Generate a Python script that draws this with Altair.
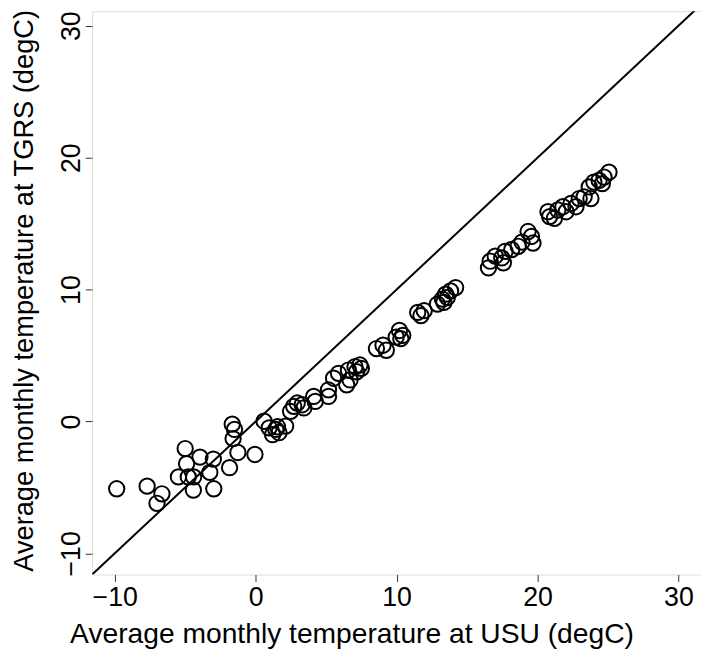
import altair as alt
import pandas as pd

usu = [-9.86, -7.70, -6.65, -7.00, -5.00, -4.90, -5.48, -4.78, -4.40, -4.42,
       -3.95, -3.00, -3.25, -2.97, -1.85, -1.66, -1.50, -1.60, -1.26, -0.05,
       0.60, 0.96, 1.43, 1.66, 1.20, 2.13, 1.55,
       2.48, 2.70, 2.95, 3.30, 3.42, 4.12, 4.23, 5.17, 5.17, 5.53,
       5.88, 6.46, 6.70, 6.58, 7.05, 7.16, 7.40, 7.50,
       8.57, 9.04, 9.27, 9.97, 10.44, 10.20, 10.30,
       11.50, 11.73, 11.96, 12.90, 13.25, 13.36, 13.48, 13.60, 13.83, 14.19,
       16.52, 16.64, 17.00, 17.46, 17.58, 17.70, 18.17, 18.63, 18.90, 19.33,
       19.57, 19.68,
       20.74, 20.86, 21.20, 21.44, 21.80, 22.03, 22.38, 22.73, 22.96, 23.31,
       23.79, 23.67, 24.00, 24.37, 24.60, 24.72, 25.07]
tgrs = [-5.10, -4.90, -5.48, -6.20, -2.05, -3.20, -4.20, -4.20, -4.20, -5.20,
        -2.70, -2.85, -3.85, -5.10, -3.50, -0.20, -0.60, -1.30, -2.35, -2.50,
        0.02, -0.48, -0.60, -0.85, -1.00, -0.35, -0.40,
        0.77, 1.15, 1.40, 1.27, 1.03, 1.90, 1.52, 1.90, 2.40, 3.28,
        3.65, 2.78, 3.15, 3.90, 4.15, 3.77, 4.28, 4.03,
        5.53, 5.78, 5.40, 6.40, 6.53, 6.90, 6.28,
        8.27, 8.03, 8.40, 8.90, 9.28, 9.03, 9.65, 9.40, 9.90, 10.15,
        11.65, 12.15, 12.53, 12.40, 12.03, 12.90, 13.03, 13.28, 13.60, 14.40,
        14.03, 13.53,
        15.90, 15.53, 15.40, 16.03, 16.28, 15.90, 16.53, 16.28, 16.90, 17.03,
        16.90, 17.78, 18.15, 18.28, 18.03, 18.53, 18.90]

tick_values = [-10, 0, 10, 20, 30]
lim = [-11.6, 31.6]
ylim = [-11.6, 31.1]

df = pd.DataFrame({"usu": usu, "tgrs": tgrs})
line_df = pd.DataFrame({"usu": lim, "tgrs": lim})

FONT = "Liberation Sans"

xscale = alt.Scale(domain=lim, nice=False, zero=False)
yscale = alt.Scale(domain=ylim, nice=False, zero=False)

xaxis = alt.Axis(values=tick_values, title="Average monthly temperature at USU (degC)",
                 grid=False, domain=False, tickSize=7, tickColor="#333333",
                 labelFont=FONT, labelFontSize=27, labelColor="black",
                 labelBaseline="alphabetic", labelPadding=24,
                 titleFont=FONT, titleFontSize=28.5, titleFontWeight="normal",
                 titleColor="black", titleX=262, titleY=60, titleAlign="center",
                 titleBaseline="middle")
yaxis = alt.Axis(values=tick_values, title="Average monthly temperature at TGRS (degC)",
                 grid=False, domain=False, tickSize=7, tickColor="#333333",
                 labelFont=FONT, labelFontSize=27, labelColor="black",
                 labelAngle=-90, labelAlign="center", labelBaseline="alphabetic",
                 labelPadding=6,
                 titleFont=FONT, titleFontSize=27.5, titleFontWeight="normal",
                 titleColor="black", titleAngle=-90, titleX=-60, titleY=282,
                 titleAlign="center", titleBaseline="alphabetic")

points = alt.Chart(df).mark_point(shape="circle", filled=False, color="black",
                                  strokeWidth=2, size=240, opacity=1).encode(
    x=alt.X("usu:Q", scale=xscale, axis=xaxis),
    y=alt.Y("tgrs:Q", scale=yscale, axis=yaxis),
)

diag = alt.Chart(line_df).mark_line(color="black", strokeWidth=2, clip=True).encode(
    x=alt.X("usu:Q", scale=xscale),
    y=alt.Y("tgrs:Q", scale=yscale),
)

chart = alt.layer(diag, points).properties(
    width=615, height=569,
    autosize=alt.AutoSizeParams(type="none"),
    padding={"left": 85, "top": 0, "right": 0, "bottom": 74},
).configure_view(stroke="#222222", strokeWidth=1.2).configure(background="white")

chart.save("out.html", embed_options={"renderer": "svg", "actions": False})
